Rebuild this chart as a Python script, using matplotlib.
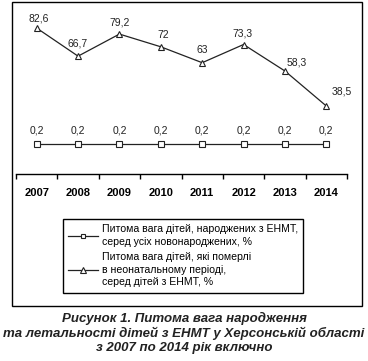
import matplotlib.pyplot as plt
from matplotlib.patches import Rectangle

plt.rcParams["font.family"] = ["Liberation Sans", "DejaVu Sans"]

years = ["2007", "2008", "2009", "2010", "2011", "2012", "2013", "2014"]
born_share = [0.2, 0.2, 0.2, 0.2, 0.2, 0.2, 0.2, 0.2]
died_share = [82.6, 66.7, 79.2, 72, 63, 73.3, 58.3, 38.5]

born_label = "Питома вага дітей, народжених з ЕНМТ,\nсеред усіх новонароджених, %"
died_label = "Питома вага дітей, які померлі\nв неонатальному періоді,\nсеред дітей з ЕНМТ, %"
caption = ("Рисунок 1. Питома вага народження\n"
           "та летальності дітей з ЕНМТ у Херсонській області\n"
           "з 2007 по 2014 рік включно")

# label offsets in pixels (dx, dy) for the upper series
died_offsets = [(2, 10), (0, 13), (0, 12), (2, 12), (0, 13), (-1, 11), (12, 9), (15, 14)]

W, H = 368, 361
fig = plt.figure(figsize=(W / 100, H / 100), dpi=100)

left, right = 16 / W, 347 / W
bottom, top = 1 - 174 / H, 1 - 15 / H
ax = fig.add_axes([left, bottom, right - left, top - bottom])
ax2 = ax.twinx()

x = list(range(len(years)))

l2, = ax.plot(x, died_share, color="#222222", lw=0.9, marker="^", ms=5,
              mfc="white", mec="#222222", mew=0.8, clip_on=False)
l1, = ax2.plot(x, born_share, color="#222222", lw=0.9, marker="s", ms=4.5,
               mfc="white", mec="#222222", mew=0.8, clip_on=False)

for xi, v, (dx, dy) in zip(x, died_share, died_offsets):
    ax.annotate(f"{v:g}".replace(".", ","), (xi, v), xytext=(dx, dy),
                textcoords="offset pixels", ha="center", va="center",
                fontsize=7.5, color="#222222")
for xi, v in zip(x, born_share):
    ax2.annotate(f"{v:g}".replace(".", ","), (xi, v), xytext=(0, 14),
                 textcoords="offset pixels", ha="center", va="center",
                 fontsize=7.5, color="#222222")

ax.set_xlim(-0.5, len(years) - 0.5)
ax.set_ylim(0, 90)
ax2.set_ylim(0, 1.06)

for a in (ax, ax2):
    for s in ("top", "left", "right"):
        a.spines[s].set_visible(False)
    a.set_yticks([])
    a.patch.set_visible(False)
ax2.spines["bottom"].set_visible(False)
ax.spines["bottom"].set_linewidth(1.0)

ax.set_xticks([i - 0.5 for i in range(len(years) + 1)])
ax.set_xticklabels([])
ax.set_xticks(x, minor=True)
ax.set_xticklabels(years, minor=True, fontsize=8, fontweight="bold")
ax.tick_params(axis="x", which="major", length=3.5, width=1.0, direction="out")
ax.tick_params(axis="x", which="minor", length=0, pad=10)

leg = fig.legend([l1, l2], [born_label, died_label],
                 loc="upper left", bbox_to_anchor=(63 / W, 1 - 219 / H),
                 fontsize=7.6, frameon=True, fancybox=False, edgecolor="black",
                 framealpha=1, handlelength=2.8, handletextpad=0.35,
                 borderpad=0.5, labelspacing=0.55, markerscale=0.75,
                 borderaxespad=0)
leg.get_frame().set_linewidth(1.0)
for t in leg.get_texts():
    t.set_linespacing(1.3)

fig.patches.append(Rectangle((12 / W, 1 - 306 / H), 350 / W, 304 / H,
                             transform=fig.transFigure, fill=False,
                             ec="black", lw=1.0))

fig.text(0.5, 1 - 333 / H, caption, ha="center", va="center",
         fontsize=9.5, fontweight="bold", fontstyle="italic",
         linespacing=1.2, color="#222222")

fig.savefig("out.png", dpi=100)
